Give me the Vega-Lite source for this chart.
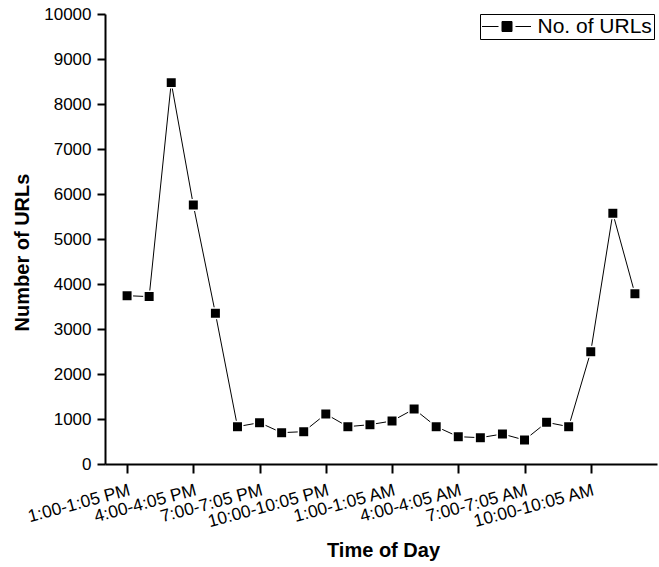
{
  "$schema": "https://vega.github.io/schema/vega-lite/v6.json",
  "width": 552,
  "height": 450,
  "autosize": "none",
  "padding": {"left": 105, "top": 14, "right": 2, "bottom": 103},
  "background": "white",
  "config": {"view": {"stroke": null}, "font": "Liberation Sans"},
  "data": {
    "values": [
      {"time": "1:00-1:05 PM", "urls": 3740, "series": "No. of URLs"},
      {"time": "2:00-2:05 PM", "urls": 3720, "series": "No. of URLs"},
      {"time": "3:00-3:05 PM", "urls": 8475, "series": "No. of URLs"},
      {"time": "4:00-4:05 PM", "urls": 5756, "series": "No. of URLs"},
      {"time": "5:00-5:05 PM", "urls": 3348, "series": "No. of URLs"},
      {"time": "6:00-6:05 PM", "urls": 830, "series": "No. of URLs"},
      {"time": "7:00-7:05 PM", "urls": 919, "series": "No. of URLs"},
      {"time": "8:00-8:05 PM", "urls": 696, "series": "No. of URLs"},
      {"time": "9:00-9:05 PM", "urls": 719, "series": "No. of URLs"},
      {"time": "10:00-10:05 PM", "urls": 1111, "series": "No. of URLs"},
      {"time": "11:00-11:05 PM", "urls": 830, "series": "No. of URLs"},
      {"time": "12:00-12:05 AM", "urls": 874, "series": "No. of URLs"},
      {"time": "1:00-1:05 AM", "urls": 956, "series": "No. of URLs"},
      {"time": "2:00-2:05 AM", "urls": 1222, "series": "No. of URLs"},
      {"time": "3:00-3:05 AM", "urls": 830, "series": "No. of URLs"},
      {"time": "4:00-4:05 AM", "urls": 607, "series": "No. of URLs"},
      {"time": "5:00-5:05 AM", "urls": 585, "series": "No. of URLs"},
      {"time": "6:00-6:05 AM", "urls": 667, "series": "No. of URLs"},
      {"time": "7:00-7:05 AM", "urls": 533, "series": "No. of URLs"},
      {"time": "8:00-8:05 AM", "urls": 926, "series": "No. of URLs"},
      {"time": "9:00-9:05 AM", "urls": 830, "series": "No. of URLs"},
      {"time": "10:00-10:05 AM", "urls": 2496, "series": "No. of URLs"},
      {"time": "11:00-11:05 AM", "urls": 5570, "series": "No. of URLs"},
      {"time": "12:00-12:05 PM", "urls": 3785, "series": "No. of URLs"}
    ]
  },
  "encoding": {
    "x": {
      "field": "time",
      "type": "ordinal",
      "sort": null,
      "scale": {"type": "point", "padding": 1},
      "axis": {
        "values": ["1:00-1:05 PM", "4:00-4:05 PM", "7:00-7:05 PM", "10:00-10:05 PM", "1:00-1:05 AM", "4:00-4:05 AM", "7:00-7:05 AM", "10:00-10:05 AM"],
        "labelAngle": -15,
        "labelAlign": "right",
        "labelBaseline": "top",
        "labelFontSize": 17.5,
        "labelColor": "black",
        "labelPadding": 8,
        "labelOverlap": false,
        "labelBound": false,
        "labelFlush": false,
        "tickSize": 9,
        "tickWidth": 2,
        "tickColor": "black",
        "domainWidth": 2,
        "domainColor": "black",
        "grid": false,
        "title": "Time of Day",
        "titleFontSize": 20,
        "titleFontWeight": "bold",
        "titleColor": "black",
        "titleX": 278,
        "titleY": 92,
        "titleBaseline": "alphabetic"
      }
    },
    "y": {
      "field": "urls",
      "type": "quantitative",
      "scale": {"domain": [0, 10000]},
      "axis": {
        "values": [0, 1000, 2000, 3000, 4000, 5000, 6000, 7000, 8000, 9000, 10000],
        "format": "d",
        "labelFontSize": 17,
        "labelColor": "black",
        "labelPadding": 6,
        "tickSize": 8,
        "tickWidth": 2,
        "tickColor": "black",
        "domainWidth": 2,
        "domainColor": "black",
        "grid": false,
        "title": "Number of URLs",
        "titleFontSize": 20,
        "titleFontWeight": "bold",
        "titleColor": "black",
        "titleX": -77,
        "titleY": 238,
        "titleBaseline": "alphabetic"
      }
    }
  },
  "layer": [
    {"mark": {"type": "line", "color": "black", "strokeWidth": 1}},
    {
      "mark": {"type": "point", "shape": "square", "filled": true, "size": 110, "opacity": 1, "stroke": "white", "strokeWidth": 1.5},
      "encoding": {
        "color": {
          "field": "series",
          "type": "nominal",
          "scale": {"range": ["black"]},
          "legend": {
            "orient": "none",
            "legendX": 375,
            "legendY": 0,
            "title": null,
            "strokeColor": "black",
            "fillColor": "white",
            "padding": 2,
            "cornerRadius": 0,
            "labelFontSize": 21,
            "labelColor": "black",
            "labelOffset": 20,
            "symbolOffset": 14.5,
            "symbolType": "M-2.5,0H-0.85M0.85,0H2.4M-0.5,-0.5H0.5V0.5H-0.5Z",
            "symbolSize": 400,
            "symbolStrokeWidth": 1,
            "symbolFillColor": "black",
            "symbolStrokeColor": "black"
          }
        }
      }
    }
  ]
}
